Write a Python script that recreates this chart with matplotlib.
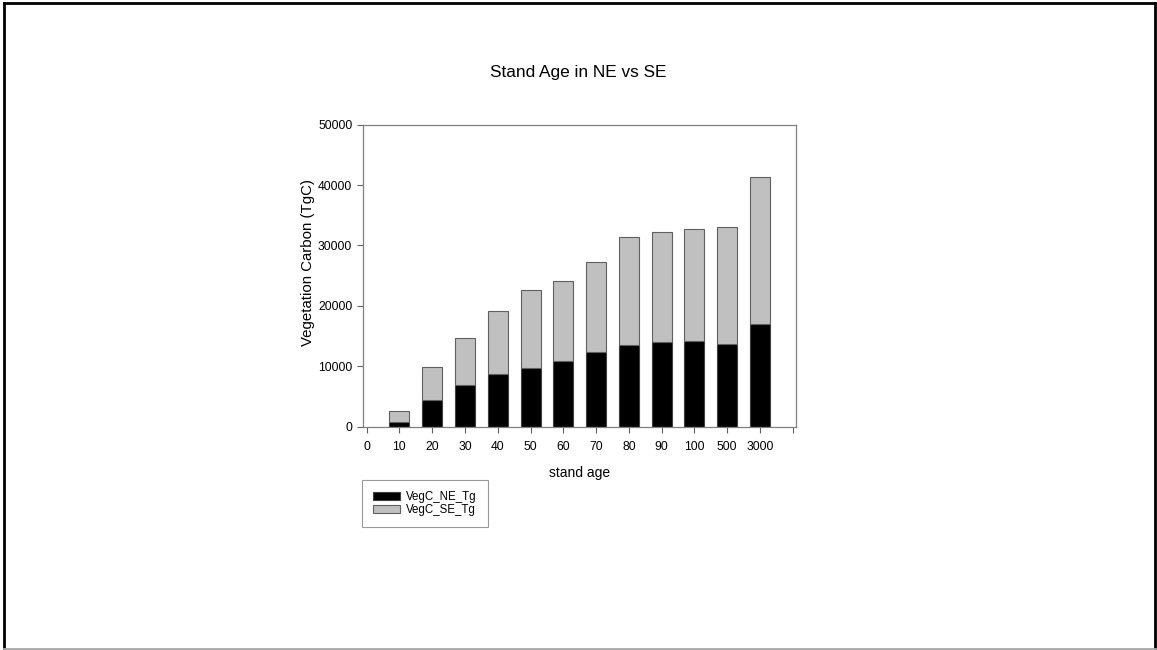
import matplotlib.pyplot as plt
from matplotlib.lines import Line2D

plt.rcParams['font.family'] = ['Liberation Sans', 'DejaVu Sans']

# stand age classes and carbon (TgC)
ages = ["10", "20", "30", "40", "50", "60", "70", "80", "90", "100", "500", "3000"]
vegc_ne = [700, 4400, 6900, 8700, 9800, 10800, 12400, 13500, 14000, 14200, 13700, 16950]
vegc_total = [2600, 9900, 14700, 19150, 22600, 24200, 27200, 31400, 32200, 32800, 33100, 41300]
vegc_se = [t - n for t, n in zip(vegc_total, vegc_ne)]

W, H = 1157, 650
fig = plt.figure(figsize=(W / 100, H / 100), dpi=100)

# slide border: black on three sides, grey at the bottom
def px(x, y):
    return x / W, 1 - y / H

for (x0, y0), (x1, y1), c in [((4, 3), (4, 649), 'black'), ((4, 3), (1155, 3), 'black'),
                              ((1155, 3), (1155, 649), 'black'), ((4, 648.5), (1155, 648.5), '#a8a8a8')]:
    a, b = px(x0, y0)
    c2, d = px(x1, y1)
    fig.add_artist(Line2D([a, c2], [b, d], transform=fig.transFigure, color=c, linewidth=2))

ax = fig.add_axes([362.7 / W, 1 - 426.7 / H, 433 / W, 302 / H])

pos = list(range(1, len(ages) + 1))
b1 = ax.bar(pos, vegc_ne, width=0.61, color='black', edgecolor='#404040', linewidth=0.8)
b2 = ax.bar(pos, vegc_se, width=0.61, bottom=vegc_ne, color='#c0c0c0',
            edgecolor='#606060', linewidth=0.8)

ax.set_xlim(-0.12, 13.09)
ax.set_ylim(0, 50000)
ax.set_xticks(list(range(0, 14)))
ax.set_xticklabels(["0"] + ages + [""])
ax.set_yticks([0, 10000, 20000, 30000, 40000, 50000])
ax.tick_params(direction='out', length=4.5, width=0.8, color='#606060', labelsize=8.7)
ax.tick_params(axis='x', pad=6)
ax.tick_params(axis='y', pad=3)
for s in ax.spines.values():
    s.set_color('#808080')
    s.set_linewidth(0.9)

ax.set_xlabel("stand age", fontsize=10)
ax.xaxis.set_label_coords(0.5, -0.13)
ax.set_ylabel("Vegetation Carbon (TgC)", fontsize=10.8)
ax.yaxis.set_label_coords(-0.111, 0.545)
fig.text(578.5 / W, 1 - 72 / H, "Stand Age in NE vs SE", ha='center', va='center', fontsize=12.4)

leg = fig.legend([b1, b2], ["VegC_NE_Tg", "VegC_SE_Tg"], loc='upper left',
                 bbox_to_anchor=(362.3 / W, 1 - 480 / H), fontsize=8.3, fancybox=False,
                 handlelength=2.35, handleheight=0.7, handletextpad=0.5, labelspacing=0.13,
                 borderpad=0.95, borderaxespad=0)
leg.get_frame().set_edgecolor('#808080')
leg.get_frame().set_linewidth(0.8)

fig.savefig("out.png", dpi=100)
